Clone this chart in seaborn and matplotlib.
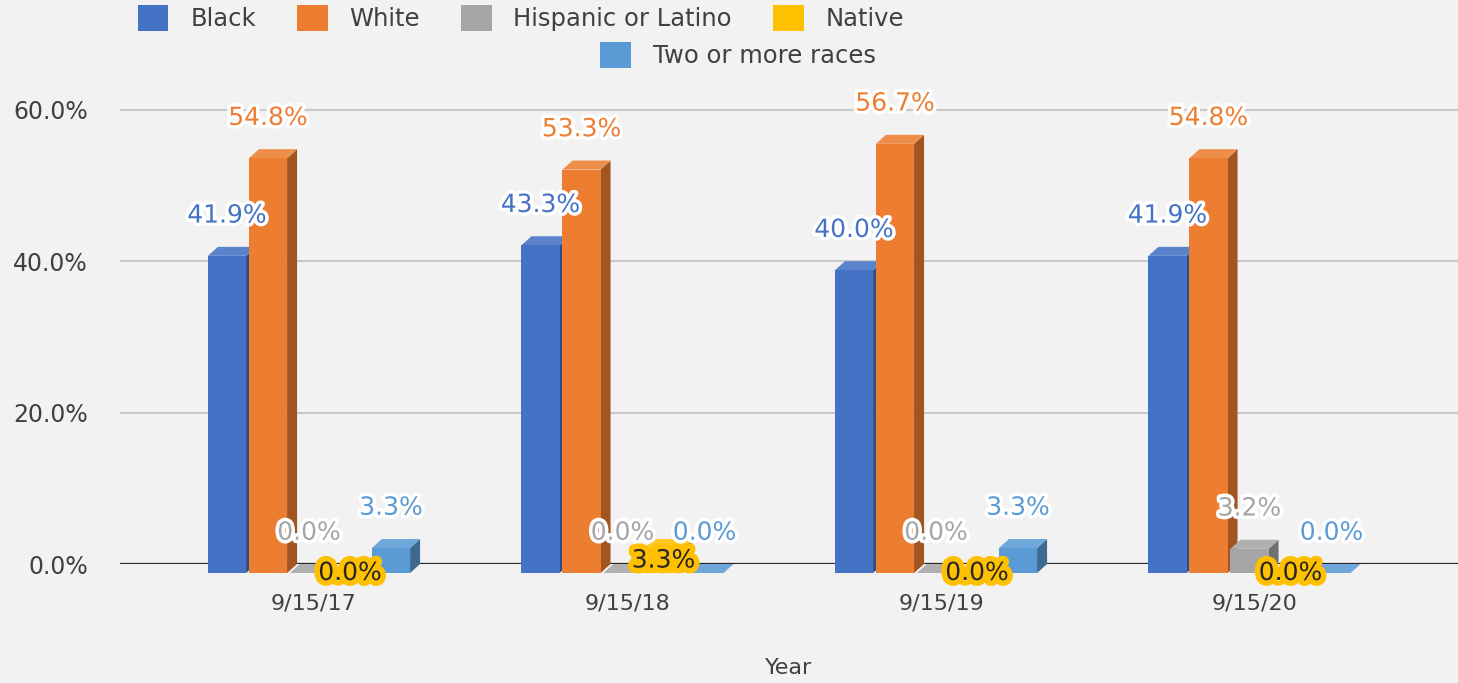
import numpy as np
import pandas as pd
import matplotlib
matplotlib.use('Agg')
import matplotlib.pyplot as plt
import matplotlib.patheffects as pe
from matplotlib.patches import Polygon, Patch
from matplotlib.colors import to_rgb
import seaborn as sns

# data
dates = ['9/15/17', '9/15/18', '9/15/19', '9/15/20']
races = ['Black', 'White', 'Hispanic or Latino', 'Native', 'Two or more races']
black = [41.9, 43.3, 40.0, 41.9]
white = [54.8, 53.3, 56.7, 54.8]
hispanic = [0.0, 0.0, 0.0, 3.2]
native = [0.0, 3.3, 0.0, 0.0]
two_or_more = [3.3, 0.0, 3.3, 0.0]
colors = ['#4472C4', '#ED7D31', '#A5A5A5', '#FFC000', '#5B9BD5']
y_ticks = [0, 20, 40, 60]

df = pd.DataFrame({
    'Year': dates * len(races),
    'Race': np.repeat(races, len(dates)),
    'Share': black + white + hispanic + native + two_or_more,
})

sns.set_theme(style='white')
plt.rcParams['font.family'] = ['DejaVu Sans']
bg = '#F2F2F2'
text_c = '#404040'

W, H = 1458, 683
fig = plt.figure(figsize=(W / 100, H / 100), dpi=100, facecolor=bg)
ax = fig.add_axes([120 / W, (H - 564) / H, 1338 / W, 492 / H], facecolor=bg)

sns.barplot(data=df, x='Year', y='Share', hue='Race', hue_order=races, order=dates,
            palette=colors, width=0.654, gap=0.07, saturation=1, errorbar=None,
            legend=False, ax=ax)

# axis scale (pixels per data unit) so the fake 3D depth is a fixed pixel size
px_x = 313.5
left = -(319 - 120) / px_x
ax.set_xlim(left, left + 1338 / px_x)
ax.set_ylim(0, 65)
px_y = 492 / 65
dx = 10 / px_x
dy = 9 / px_y

for i, (cont, race) in enumerate(zip(ax.containers, races)):
    base = np.array(to_rgb(colors[i]))
    side_c = base * 0.68
    top_c = base + (1 - base) * 0.12
    z = 3 + i * 0.1
    for bar in cont:
        w = bar.get_width()
        h = bar.get_height()
        x0 = bar.get_x() - dx
        bar.set_x(x0)
        bar.set_y(-dy)
        bar.set_clip_on(False)
        bar.set_linewidth(0)
        bar.set_zorder(z + 0.05)
        top = Polygon([(x0, h - dy), (x0 + w, h - dy), (x0 + w + dx, h), (x0 + dx, h)],
                      closed=True, facecolor=top_c, lw=0, zorder=z, clip_on=False)
        side = Polygon([(x0 + w, -dy), (x0 + w + dx, 0), (x0 + w + dx, h), (x0 + w, h - dy)],
                       closed=True, facecolor=side_c, lw=0, zorder=z, clip_on=False)
        ax.add_patch(side)
        ax.add_patch(top)

        cx = x0 + w / 2
        if race == 'Native':
            ax.annotate(f'{h:.1f}%', (cx, h / 2 - dy), ha='center', va='center',
                        fontsize=18, color='#262626', zorder=6, annotation_clip=False,
                        path_effects=[pe.withStroke(linewidth=8, foreground=colors[i])])
        else:
            ax.annotate(f'{h:.1f}%', (cx, h - dy), xytext=(0, 29), textcoords='offset points',
                        ha='center', va='center', fontsize=18, color=colors[i], zorder=6,
                        annotation_clip=False,
                        path_effects=[pe.withStroke(linewidth=5, foreground='white')])

ax.set_xticks(np.arange(len(dates)) - dx / 2)
ax.set_xticklabels(dates)
ax.set_yticks(y_ticks)
ax.set_yticklabels([f'{v:.1f}%' for v in y_ticks])
ax.tick_params(axis='x', length=0, pad=21, labelsize=16, colors=text_c)
ax.tick_params(axis='y', length=0, pad=23, labelsize=17, colors=text_c)
ax.set_xlabel('Year', fontsize=16, color=text_c, labelpad=32)
ax.set_ylabel('')

ax.grid(axis='y', color='#C9C9C9', lw=1.5)
ax.grid(axis='x', visible=False)
ax.set_axisbelow(True)
ax.axhline(0, color='#262626', lw=1.6, zorder=1.5)
for s in ax.spines.values():
    s.set_visible(False)

handles = [Patch(facecolor=c, edgecolor='none') for c in colors]
leg_kw = dict(frameon=False, fontsize=17.5, handlelength=1.25, handleheight=1.25,
              handletextpad=0.9, columnspacing=1.7, labelcolor=text_c, loc='center')
fig.legend(handles[:4], races[:4], ncol=4, bbox_to_anchor=(521 / W, 1 - 18 / H), **leg_kw)
fig.legend(handles[4:], races[4:], ncol=1, bbox_to_anchor=(738 / W, 1 - 55 / H), **leg_kw)

fig.savefig('out.png', dpi=100, facecolor=bg)
